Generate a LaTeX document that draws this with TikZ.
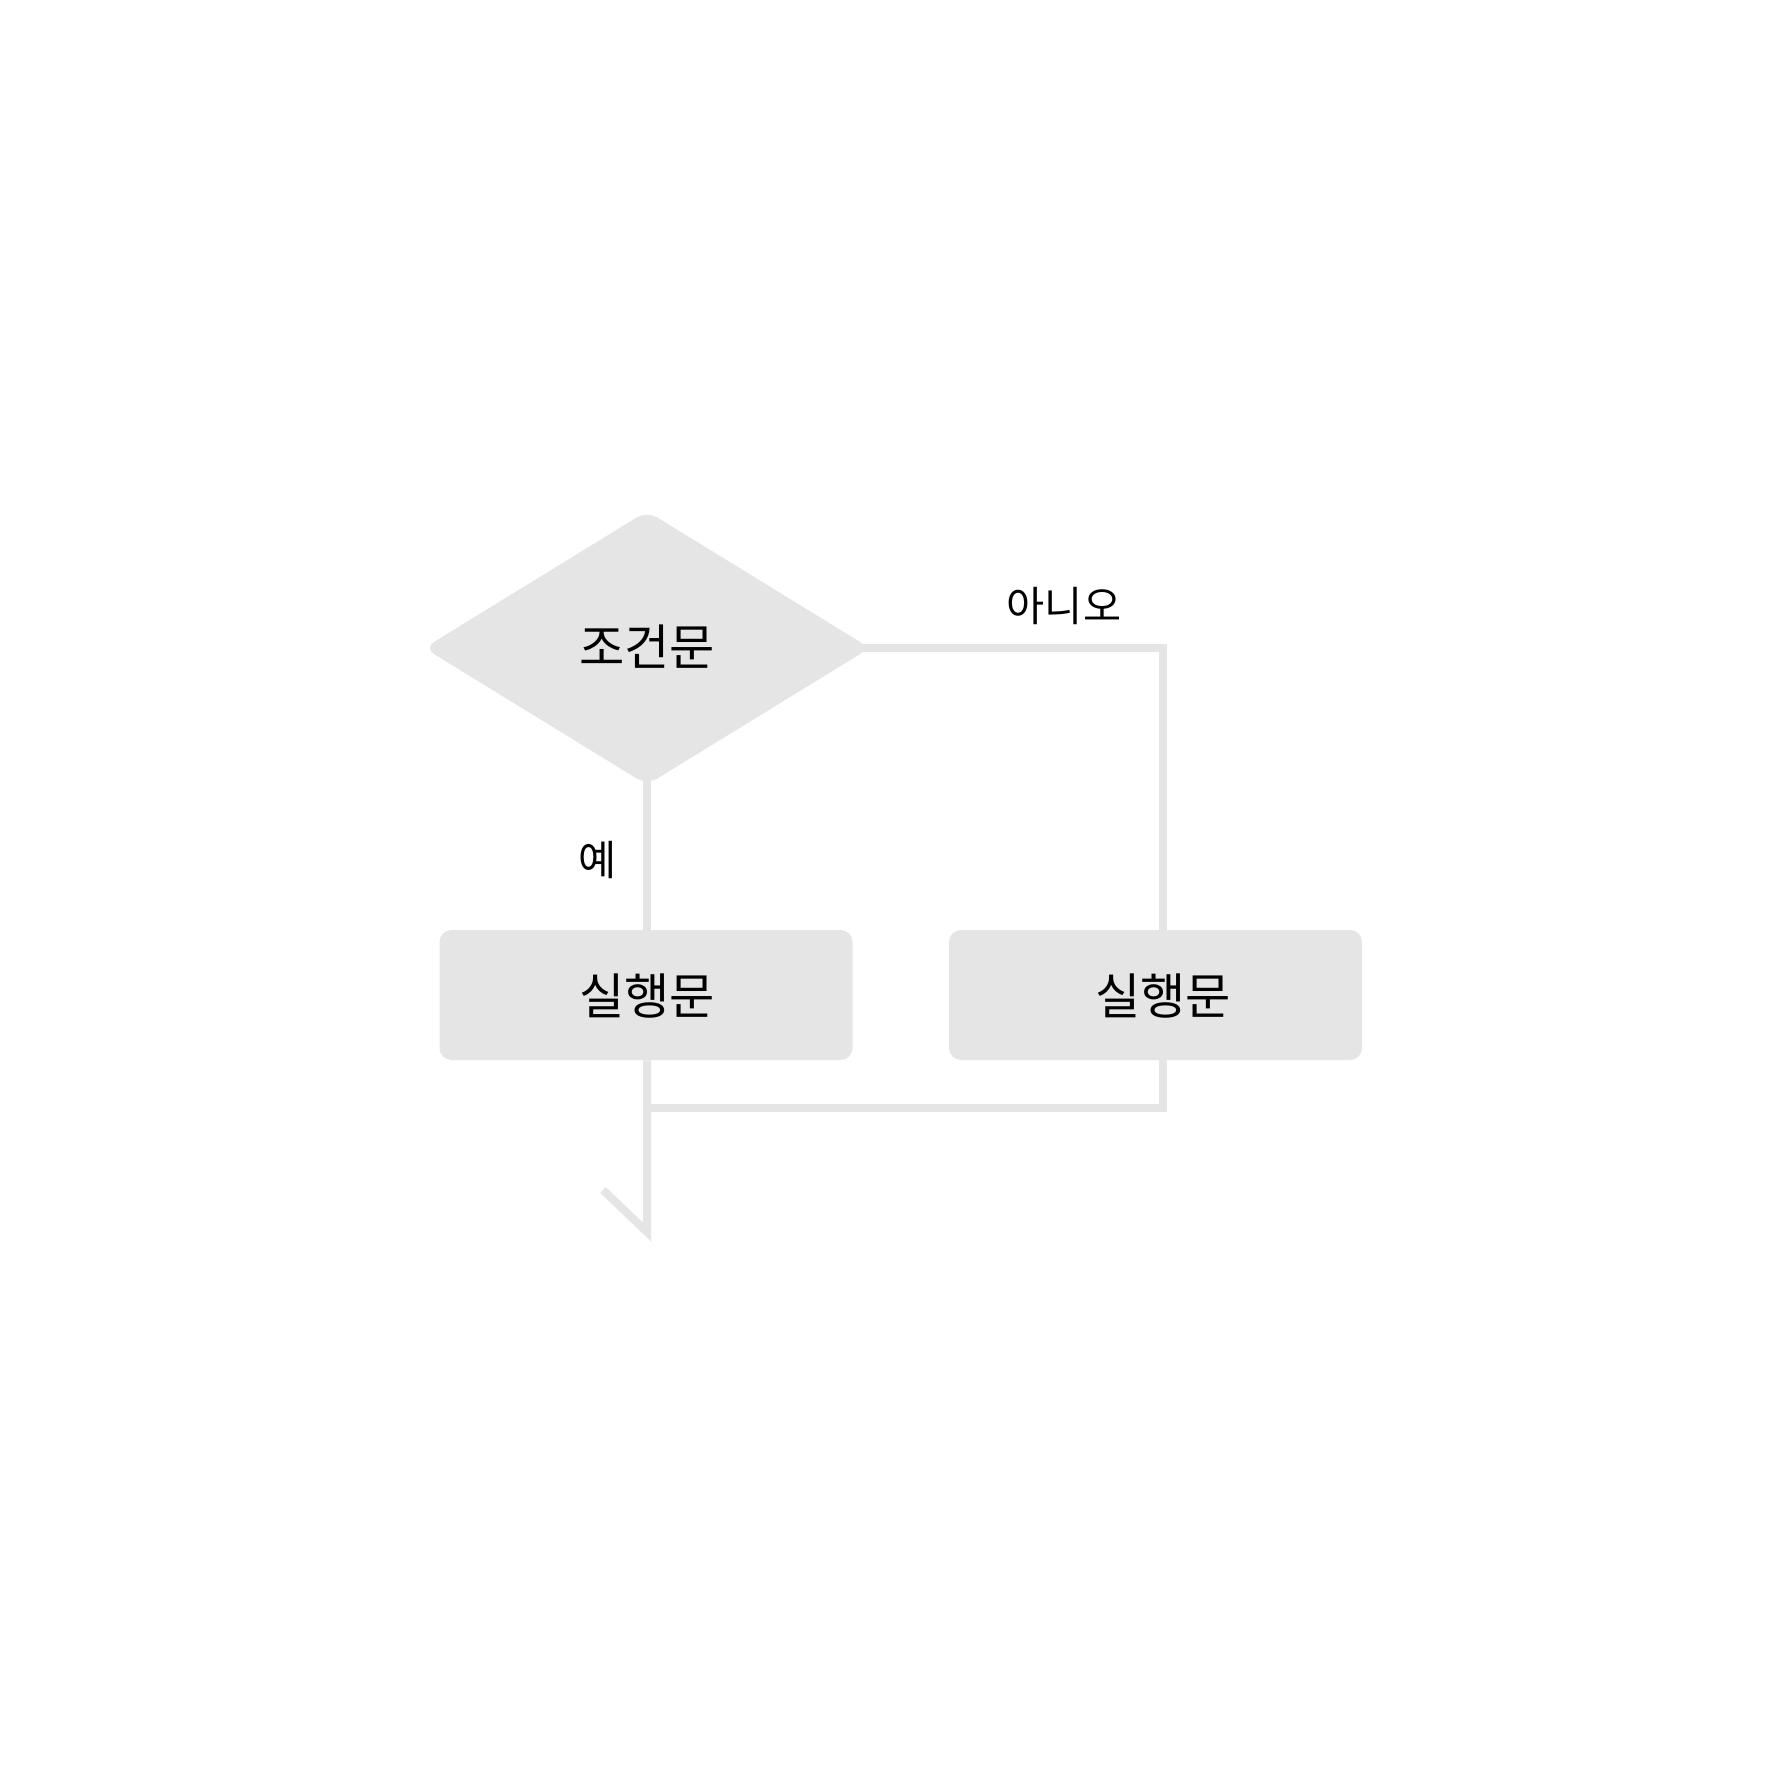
\documentclass[tikz,border=0pt]{standalone}
\usepackage{fontspec}
\newfontfamily\kr{Noto Sans CJK KR}
\usetikzlibrary{shapes.geometric}
\definecolor{shapegray}{HTML}{E5E5E5}
\tikzset{
  conn/.style={draw=shapegray, line width=4pt, line cap=butt, line join=miter},
  stepbox/.style={fill=shapegray, rounded corners=6pt, minimum width=206.5pt, minimum height=65pt, inner sep=0pt},
  decbox/.style={diamond, fill=shapegray, rounded corners=6pt, minimum width=223pt, minimum height=137pt, aspect=1.63, inner sep=0pt},
  txt/.style={font=\kr\fontsize{24.6}{29}\selectfont, inner sep=0pt},
  lbl/.style={font=\kr\fontsize{20.7}{25}\selectfont, inner sep=0pt},
}
\begin{document}
\begin{tikzpicture}[x=0.5pt,y=-0.5pt]
  \useasboundingbox[fill=white] (0,0) rectangle (1773,1772);
  % nodes
  \node[decbox] (d) at (647,648) {};
  \node[txt] (dt) at (647,647) {조건문};
  \node[stepbox] (lb) at (646,995) {};
  \node[txt] (lbt) at (647,996) {실행문};
  \node[stepbox] (rb) at (1155.5,995) {};
  \node[txt] (rbt) at (1163,996) {실행문};
  \node[lbl] (no) at (1064,606) {아니오};
  \node[lbl] (yes) at (598,860) {예};
  \coordinate (dE) at ([xshift=-6pt]d.east);
  \coordinate (dS) at ([yshift=6pt]d.south);
  \coordinate (j) at (647,1108);
  \coordinate (tip) at (647,1232);
  \coordinate (barb) at (603,1190);
  % connectors
  \draw[conn] (dE) -| (rbt |- rb.north);
  \draw[conn] (dS) -- (lbt |- lb.north);
  \draw[conn] (rbt |- rb.south) |- (j);
  \draw[conn] (lbt |- lb.south) -- (tip) -- (barb);
\end{tikzpicture}
\end{document}
